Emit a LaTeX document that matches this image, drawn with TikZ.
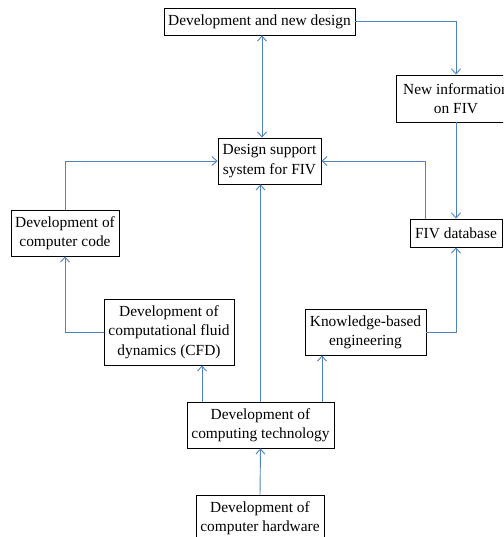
\documentclass[tikz,border=0pt]{standalone}
\usepackage{fontspec}
\setmainfont{Liberation Serif}
\usetikzlibrary{arrows.meta}
\definecolor{lineblue}{RGB}{79,129,189}
\begin{document}
\begin{tikzpicture}[x=1pt,y=-1pt,
  box/.style={draw=black,line width=0.9pt,inner sep=0pt,align=center,font=\fontsize{15.4}{19.3}\selectfont},
  arr/.style={draw=lineblue,line width=0.9pt,-{Straight Barb[length=5pt,width=9pt]}},
  darr/.style={draw=lineblue,line width=0.9pt,{Straight Barb[length=5pt,width=9pt]}-{Straight Barb[length=5pt,width=9pt]}}]
\useasboundingbox (0,0) rectangle (503,537);
\begin{scope}
\clip (0,0) rectangle (503,537);
\node[box,minimum width=191pt,minimum height=27pt] (top) at (259.5,21.5) {Development and new design};
\node[box,minimum width=120pt,minimum height=47pt] (newinfo) at (456,98.5) {New information\\on FIV};
\node[box,minimum width=103pt,minimum height=46pt] (dss) at (269.5,161) {Design support\\system for FIV};
\node[box,minimum width=92pt,minimum height=28pt] (fivdb) at (456,233) {FIV database};
\node[box,minimum width=108pt,minimum height=46pt] (code) at (65,233) {Development of\\computer code};
\node[box,minimum width=130pt,minimum height=66pt] (cfd) at (169,332) {Development of\\computational fluid\\dynamics (CFD)};
\node[box,minimum width=121pt,minimum height=46pt] (kbe) at (365.5,332) {Knowledge-based\\engineering};
\node[box,minimum width=147pt,minimum height=46pt] (ctech) at (260.5,425) {Development of\\computing technology};
\node[box,minimum width=128pt,minimum height=46pt] (hw) at (260,518) {Development of\\computer hardware};

\draw[arr] (top.east) -| (newinfo.north);
\draw[darr] ([xshift=2.5pt]top.south) -- ([xshift=2.5pt]top.south |- dss.north);
\draw[arr] (newinfo.south) -- (fivdb.north);
\draw[arr] ([xshift=-31pt]fivdb.north) |- (dss.east);
\draw[arr] (code.north) |- (dss.west);
\draw[arr] (cfd.west) -| (code.south);
\draw[arr] ([xshift=-58.5pt]ctech.north) -- ([xshift=-58.5pt]ctech.north |- cfd.south);
\draw[arr] (ctech.north) -- (ctech.north |- dss.south);
\draw[arr] ([xshift=61.5pt]ctech.north) -- ([xshift=61.5pt]ctech.north |- kbe.south);
\draw[arr] (kbe.east) -| (fivdb.south);
\draw[arr] (hw.north) -- (ctech.south);
\end{scope}
\end{tikzpicture}
\end{document}
